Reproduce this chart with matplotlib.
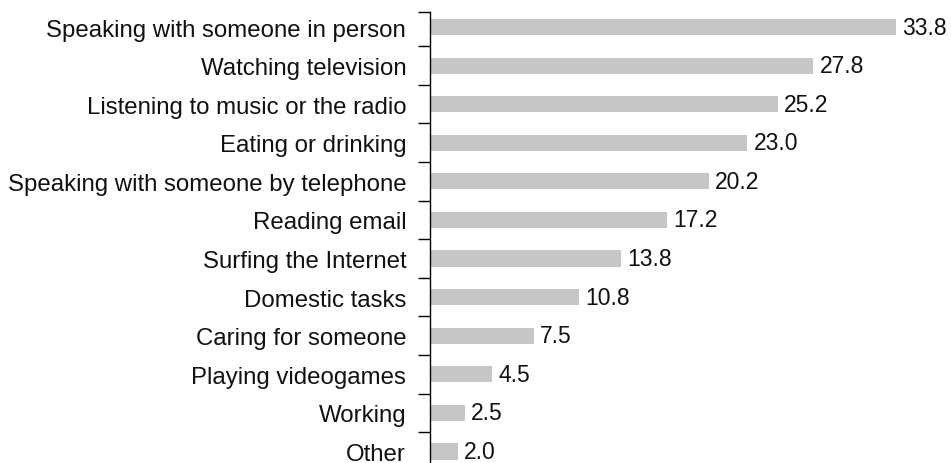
import matplotlib.pyplot as plt
import numpy as np

plt.rcParams['font.family'] = ['Liberation Sans', 'DejaVu Sans']

categories = ["Speaking with someone in person", "Watching television",
              "Listening to music or the radio", "Eating or drinking",
              "Speaking with someone by telephone", "Reading email",
              "Surfing the Internet", "Domestic tasks", "Caring for someone",
              "Playing videogames", "Working", "Other"]
values = [33.8, 27.8, 25.2, 23.0, 20.2, 17.2, 13.8, 10.8, 7.5, 4.5, 2.5, 2.0]

fig = plt.figure(figsize=(9.51, 4.64), dpi=100)
ax = fig.add_axes([0.452, 0.0, 0.548, 0.972])

y = np.arange(len(categories))
ax.barh(y, values, height=0.42, color='#c6c6c8', left=0.05)

for yi, v in zip(y, values):
    ax.annotate(f"{v:.1f}", (v + 0.05, yi), xytext=(4.5, 0), textcoords='offset points',
                va='center', ha='left', fontsize=16.5, color='#111111')

ax.set_xlim(0, 37.85)
ax.set_ylim(11.3, -0.39)

# category names at bar centres, tick marks at category boundaries
ax.set_yticks(y, minor=True)
ax.set_yticklabels(categories, minor=True)
ax.tick_params(axis='y', which='minor', length=0, pad=17, labelsize=17.3, labelcolor='#111111')
ax.set_yticks(np.append([-0.39], np.arange(0.5, len(categories) - 1, 1)))
ax.set_yticklabels([])
ax.tick_params(axis='y', which='major', length=9, width=1.0, color='black')

ax.set_xticks([])
for s in ['top', 'right', 'bottom']:
    ax.spines[s].set_visible(False)
ax.spines['left'].set_linewidth(1.0)

fig.savefig('out.png', dpi=100)
